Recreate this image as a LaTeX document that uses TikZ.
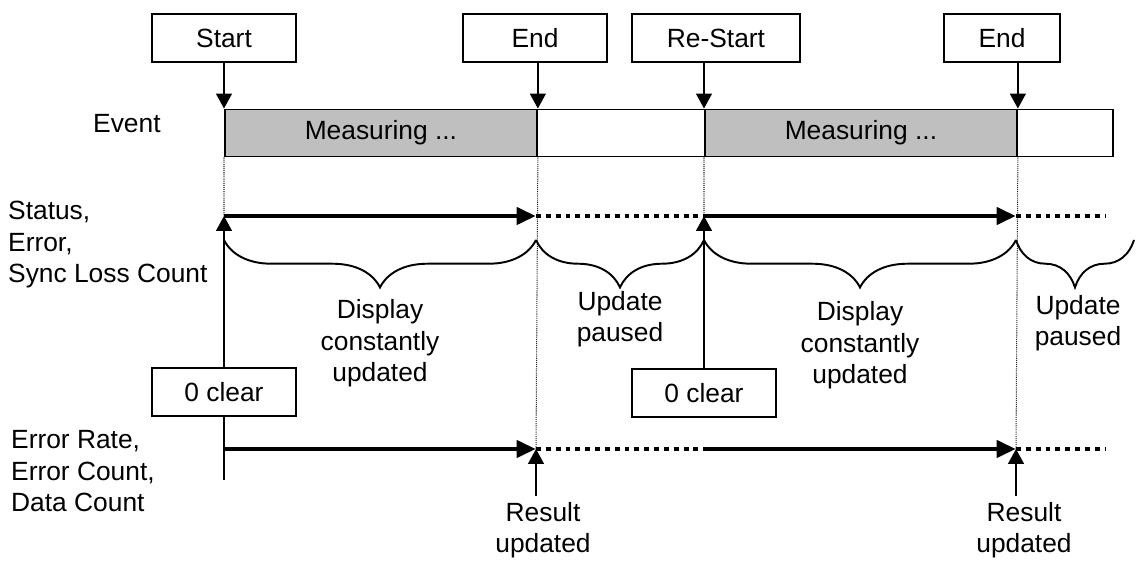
\documentclass[tikz,border=0pt]{standalone}
\usepackage{fontspec}
\setmainfont{Liberation Sans}
\usepackage{xcolor}
\colorlet{mygray}{black!25}
\colorlet{myguide}{black!85}
\usepackage{tikz}
\usetikzlibrary{arrows.meta}
\usetikzlibrary{decorations.pathreplacing}

\tikzset{
  evbox/.style={draw,line width=1.1pt,minimum height=0.96cm,inner sep=0pt},
  barbox/.style={draw,line width=1.1pt,minimum height=0.94cm,inner sep=0pt,anchor=west},
  evarrow/.style={line width=1.1pt,-{Triangle[length=8.5pt,width=9pt]}},
  runarrow/.style={line width=2.8pt,-{Triangle[length=11pt,width=9.5pt]}},
  pausedline/.style={line width=2.8pt,dash pattern=on 2.8pt off 2.8pt},
  guide/.style={myguide,line width=0.6pt,dash pattern=on 0.6pt off 0.6pt},
  brc/.style={line width=1.1pt,decorate,decoration={brace,mirror,amplitude=27pt}},
  txt/.style={anchor=base,align=center}
}

\begin{document}
\begin{tikzpicture}[x=0.02cm,y=-0.02cm,font=\fontsize{15}{18.1}\selectfont]
        \useasboundingbox (0,0) rectangle (1136,563);
        % event boxes
        \node[evbox,minimum width=2.88cm] (start) at (224,38) {Start};
        \node[evbox,minimum width=2.88cm] (end1) at (535,38) {End};
        \node[evbox,minimum width=3.36cm] (restart) at (716,38) {Re-Start};
        \node[evbox,minimum width=2.32cm] (end2) at (1002,38) {End};
        % event bar
        \node[barbox,fill=mygray,minimum width=6.24cm] (meas1) at (224,133) {Measuring ...};
        \node[barbox,minimum width=3.36cm] (gap1) at (536,133) {};
        \node[barbox,fill=mygray,minimum width=6.24cm] (meas2) at (704,133) {Measuring ...};
        \node[barbox,minimum width=1.92cm] (gap2) at (1016,133) {};
        \draw[evarrow] (start) -- (start |- meas1.north);
        \draw[evarrow] (end1.south -| meas1.east) -- (meas1.north east);
        \draw[evarrow] (restart.south -| meas2.west) -- (meas2.north west);
        \draw[evarrow] (end2.south -| meas2.east) -- (meas2.north east);
        % row labels (base = last line)
        \node[anchor=base west] (evlabel) at (87,133) {Event};
        \node[anchor=base west,align=left] (stlabel) at (2,283) {Status,\\Error,\\Sync Loss Count};
        \node[anchor=base west,align=left] (rtlabel) at (5,512) {Error Rate,\\Error Count,\\Data Count};
        % rows
        \coordinate (sa) at (224,216);
        \coordinate (sb) at (536,216);
        \coordinate (sc) at (704,216);
        \coordinate (sd) at (1016,216);
        \coordinate (se) at (1106,216);
        \coordinate (ra) at (224,449);
        \coordinate (rb) at (536,449);
        \coordinate (rc) at (704,449);
        \coordinate (rd) at (1016,449);
        \coordinate (re) at (1106,449);
        \coordinate (rbot) at (224,480);
        \draw[guide] (meas1.south west) -- (sa) (meas1.south east) -- (rb)
                     (meas2.south west) -- (sc) (meas2.south east) -- (rd);
        \draw[pausedline] (sb) -- (sc) (sd) -- (se) (rb) -- (rc) (rd) -- (re);
        \foreach \a/\b in {sa/sb,sc/sd,ra/rb,rc/rd}
          \draw[runarrow] (\a) -- (\b);
        % braces
        \draw[brc] (224,240) -- (536,240);
        \draw[brc] (536,240) -- (704,240);
        \draw[brc] (704,240) -- (1016,240);
        \draw[brc] (1016,240) -- (1134,240);
        \node[txt] (disp1) at (380,382) {Display\\constantly\\updated};
        \node[txt] (pause1) at (620,342) {Update\\paused};
        \node[txt] (disp2) at (860,384) {Display\\constantly\\updated};
        \node[txt] (pause2) at (1078,346) {Update\\paused};
        % zero clear
        \node[evbox,minimum width=2.88cm] (clear1) at (224,392) {0 clear};
        \node[evbox,minimum width=2.88cm] (clear2) at (704,393) {0 clear};
        \draw[evarrow] (clear1) -- (sa);
        \draw[evarrow] (clear2) -- (sc);
        \draw[line width=1.1pt] (clear1) -- (rbot);
        % results
        \node[txt] (res1) at (543,553) {Result\\updated};
        \node[txt] (res2) at (1024,553) {Result\\updated};
        \draw[evarrow] (res1.north -| rb) -- (rb);
        \draw[evarrow] (res2.north -| rd) -- (rd);
      \end{tikzpicture}
\end{document}
